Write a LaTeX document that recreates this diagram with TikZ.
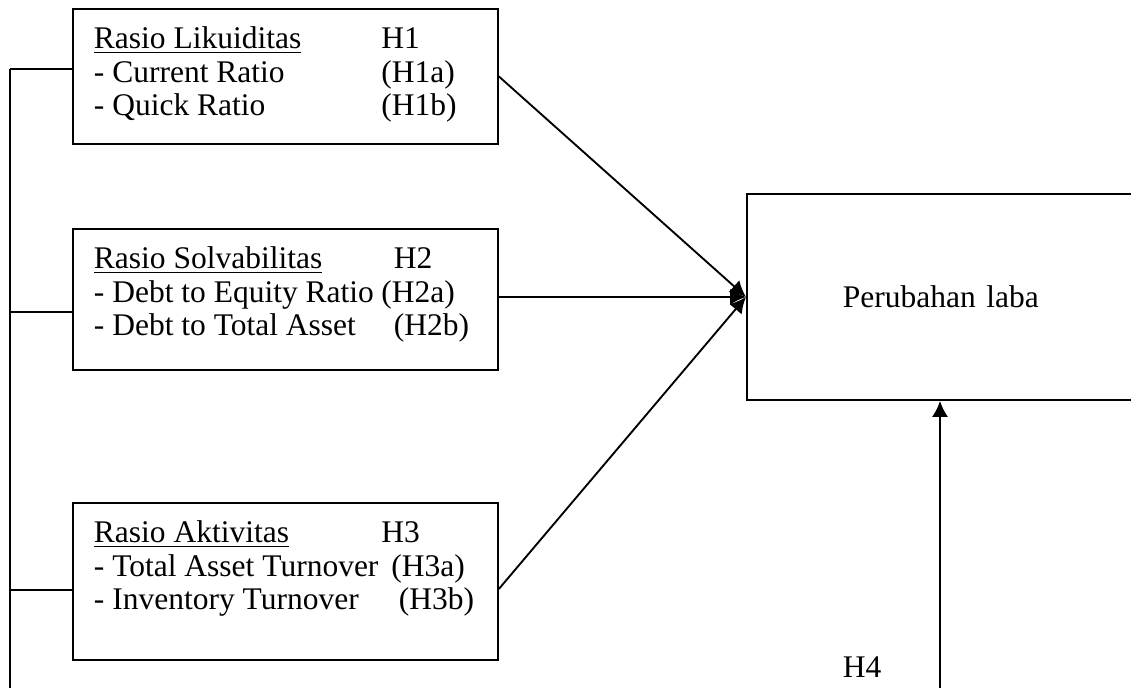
\documentclass[tikz,border=0pt]{standalone}
\usepackage{fontspec}
\setmainfont{Liberation Serif}
\usetikzlibrary{arrows.meta}
\newcommand{\hyprow}[3]{\makebox[#1][l]{#2}#3}
\newcommand{\ratiotext}[2]{\parbox[c][#1][t]{153.2pt}{\rule{0pt}{16pt}#2}}
\tikzset{
  ratio box/.style={draw, anchor=north west,
    inner xsep=8.4pt, inner ysep=0pt},
  link/.style={-{Latex[length=6.4pt,width=6.4pt]}}
}

\begin{document}
\begin{tikzpicture}[x=0.4pt, y=-0.4pt, line width=0.75pt,
    font=\fontsize{12.6pt}{13.4pt}\selectfont]
    \useasboundingbox (0,0) rectangle (1131,688);
    \node[ratio box] (lik) at (72,8) {\ratiotext{54pt}{%
      \hyprow{115pt}{\underline{Rasio Likuiditas}}{H1}\\
      \hyprow{115pt}{- Current Ratio}{(H1a)}\\
      \hyprow{115pt}{- Quick Ratio}{(H1b)}}};
    \node[ratio box] (solv) at (72,228) {\ratiotext{56.4pt}{%
      \hyprow{120pt}{\underline{Rasio Solvabilitas}}{H2}\\
      \hyprow{115pt}{- Debt to Equity Ratio}{(H2a)}\\
      \hyprow{120pt}{- Debt to Total Asset}{(H2b)}}};
    \node[ratio box] (akt) at (72,502) {\ratiotext{62.8pt}{%
      \hyprow{115pt}{\underline{Rasio Aktivitas}}{H3}\\
      \hyprow{119pt}{- Total Asset Turnover}{(H3a)}\\
      \hyprow{122pt}{- Inventory Turnover}{(H3b)}}};
    \node[draw, anchor=north west, minimum width=165.6pt,
      minimum height=82.4pt, inner xsep=38.4pt, text width=88.8pt,
      align=left] (laba) at (746,193) {Perubahan laba};
    \node (h4) at (862,667) {H4};
    \coordinate (bus top) at (10,69);
    \coordinate (bus mid) at (10,312);
    \coordinate (bus low) at (10,590);
    \coordinate (bus end) at (10,688);
    \coordinate (h4 foot) at (940,688);
    \draw (bus top) -- (bus end);
    \draw (bus top) -- (bus top -| lik.west);
    \draw (bus mid) -- (bus mid -| solv.west);
    \draw (bus low) -- (bus low -| akt.west);
    \draw[link] (lik.east) -- (laba.west);
    \draw[link] (solv.east |- laba.west) -- (laba.west);
    \draw[link] ([yshift=-3pt]akt.east) -- (laba.west);
    \draw[link] (h4 foot) -- (h4 foot |- laba.south);
  \end{tikzpicture}
\end{document}
